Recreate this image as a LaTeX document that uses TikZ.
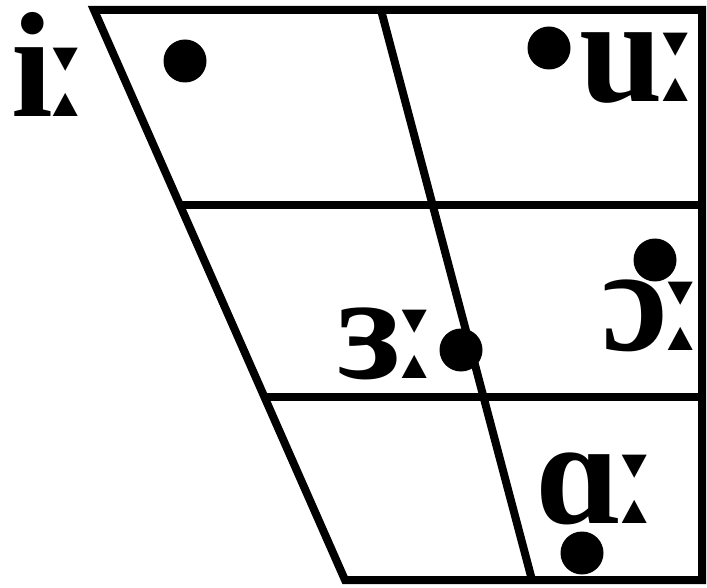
\documentclass[tikz,border=0pt]{standalone}
\usepackage{fontspec}
\setmainfont{Liberation Serif}
\newfontfamily\lenfont{DejaVu Sans}
\newcommand{\lenmark}{{\fontsize{125}{125}\selectfont\lenfont\bfseries\kern-5pt ː}}
\begin{document}
\begin{tikzpicture}[x=1pt,y=-1pt,
  frame/.style={line width=8pt,line join=miter},
  vdot/.style={circle,fill=black,inner sep=0pt,minimum size=43pt},
  vlabel/.style={anchor=base west,inner sep=0pt,font=\fontsize{150}{150}\selectfont\bfseries}]
\useasboundingbox (0,0) rectangle (707,588);
\coordinate (tl) at (94,10);
\coordinate (tr) at (702,10);
\coordinate (br) at (702,580);
\coordinate (bl) at (345,580);
\coordinate (m1l) at (178,205);
\coordinate (m1r) at (702,205);
\coordinate (m2l) at (263,397);
\coordinate (m2r) at (702,397);
\coordinate (ct) at (381,10);
\coordinate (cb) at (532,580);
\draw[frame] (tl) -- (tr) -- (br) -- (bl) -- cycle;
\draw[frame] (m1l) -- (m1r);
\draw[frame] (m2l) -- (m2r);
\draw[frame] (ct) -- (cb);
\node[vdot] (d1) at (185,61) {};
\node[vdot] (d2) at (549,48) {};
\node[vdot] (d3) at (655,260) {};
\node[vdot] (d4) at (461,350) {};
\node[vdot] (d5) at (582,553) {};
\node[vlabel] (li) at (11,117) {i\lenmark};
\node[vlabel] (lu) at (579,102) {u\lenmark};
\node[vlabel] (lo) at (601,350) {ɔ\lenmark};
\node[vlabel] (le) at (337,378) {ɜ\lenmark};
\node[vlabel] (la) at (535,523) {ɑ\lenmark};
\end{tikzpicture}
\end{document}
